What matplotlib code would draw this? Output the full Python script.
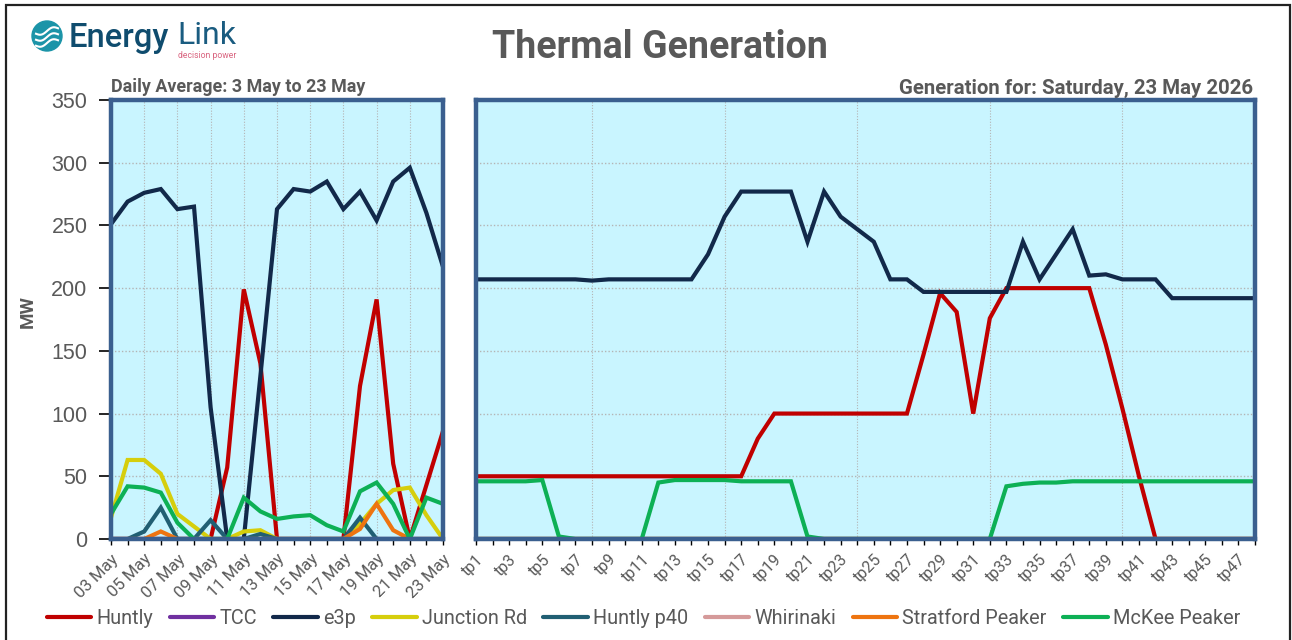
import matplotlib
matplotlib.use("Agg")
import matplotlib.pyplot as plt
from matplotlib.patches import Circle, Rectangle
from matplotlib.lines import Line2D
import numpy as np

names = ["Huntly", "TCC", "e3p", "Junction Rd", "Huntly p40", "Whirinaki", "Stratford Peaker", "McKee Peaker"]
colors = ["#C00000", "#7030A0", "#12294A", "#D6CE0C", "#215F73", "#D59A9A", "#EE7410", "#0DB055"]

days = ["03 May", "04 May", "05 May", "06 May", "07 May", "08 May", "09 May", "10 May", "11 May", "12 May", "13 May",
        "14 May", "15 May", "16 May", "17 May", "18 May", "19 May", "20 May", "21 May", "22 May", "23 May"]
d_huntly = [0, 0, 0, 0, 0, 0, 0, 57, 199, 140, 0, 0, 0, 0, 0, 122, 191, 60, 0, 43, 86]
d_tcc = [0] * 21
d_e3p = [251, 269, 276, 279, 263, 265, 105, 0, 0, 130, 263, 279, 277, 285, 263, 277, 254, 285, 296, 260, 217]
d_junction = [17, 63, 63, 52, 20, 10, 0, 0, 6, 7, 0, 0, 0, 0, 0, 12, 28, 39, 41, 19, 0]
d_p40 = [0, 0, 6, 25, 0, 0, 15, 0, 0, 4, 0, 0, 0, 0, 0, 17, 0, 0, 0, 0, 0]
d_whirinaki = [0] * 21
d_stratford = [0, 0, 0, 6, 0, 0, 0, 0, 0, 0, 0, 0, 0, 0, 0, 8, 28, 7, 0, 0, 0]
d_mckee = [20, 42, 41, 37, 13, 0, 0, 0, 33, 22, 16, 18, 19, 11, 6, 38, 45, 28, 0, 33, 28]

tps = ["tp" + str(i) for i in range(1, 49)]
t_huntly = [50, 50, 50, 50, 50, 50, 50, 50, 50, 50, 50, 50, 50, 50, 50, 50, 50, 80, 100, 100, 100, 100, 100, 100,
            100, 100, 100, 147, 196, 181, 100, 176, 200, 200, 200, 200, 200, 200, 155, 104, 50, 0, 0, 0, 0, 0, 0, 0]
t_tcc = [0] * 48
t_e3p = [207, 207, 207, 207, 207, 207, 207, 206, 207, 207, 207, 207, 207, 207, 227, 257, 277, 277, 277, 277, 237, 277, 257, 247,
         237, 207, 207, 197, 197, 197, 197, 197, 197, 237, 207, 227, 247, 210, 211, 207, 207, 207, 192, 192, 192, 192, 192, 192]
t_junction = [0] * 48
t_p40 = [0] * 48
t_whirinaki = [0] * 48
t_stratford = [0] * 48
t_mckee = [46, 46, 46, 46, 47, 2, 0, 0, 0, 0, 0, 45, 47, 47, 47, 47, 46, 46, 46, 46, 2, 0, 0, 0,
           0, 0, 0, 0, 0, 0, 0, 0, 42, 44, 45, 45, 46, 46, 46, 46, 46, 46, 46, 46, 46, 46, 46, 46]

daily = [d_huntly, d_tcc, d_e3p, d_junction, d_p40, d_whirinaki, d_stratford, d_mckee]
today = [t_huntly, t_tcc, t_e3p, t_junction, t_p40, t_whirinaki, t_stratford, t_mckee]

W, H = 1292, 640
plt.rcParams["font.family"] = ["Roboto", "DejaVu Sans"]
grey = "#595959"
grid_c = "#B4B4B4"
fig = plt.figure(figsize=(W / 100, H / 100), dpi=100)


def box(x0, y0, x1, y1):
    return [x0 / W, 1 - y1 / H, (x1 - x0) / W, (y1 - y0) / H]


fig.add_artist(Rectangle((6 / W, -0.02), 1284 / W, 1.02 - 5 / H, transform=fig.transFigure, fill=False, ec="#222222", lw=1.6))

ax1 = fig.add_axes(box(111, 100, 443, 539))
ax2 = fig.add_axes(box(476, 100, 1255, 539))

for ax, labels, series in [(ax1, days, daily), (ax2, tps, today)]:
    x = np.arange(len(labels))
    for vals, c, n in zip(series, colors, names):
        ax.plot(x, vals, color=c, lw=3, label=n, solid_joinstyle="miter")
    ax.set_xlim(0, len(labels) - 1)
    ax.set_ylim(0, 350)
    ax.set_facecolor("#C9F5FF")
    ax.set_yticks(range(0, 351, 50))
    ax.set_xticks(x)
    ax.grid(axis="y", color=grid_c, ls=(0, (1, 1.5)), lw=1)
    for s in ax.spines.values():
        s.set_color("#3A5F8F")
        s.set_linewidth(3.2)
        s.set_zorder(5)
    ax.tick_params(axis="x", length=4, width=1, color="black", pad=5)

# vertical gridlines only at some categories
for i in range(2, 21, 2):
    ax1.axvline(i, color=grid_c, ls=(0, (1, 1.5)), lw=0.8, zorder=0.9)
for i in range(7, 48, 8):
    ax2.axvline(i, color=grid_c, ls=(0, (1, 1.5)), lw=0.8, zorder=0.9)

ax1.set_xticklabels([d if i % 2 == 0 else "" for i, d in enumerate(days)], rotation=45, ha="right",
                    rotation_mode="anchor", fontsize=12, color=grey)
ax2.set_xticklabels([t if i % 2 == 0 else "" for i, t in enumerate(tps)], rotation=45, ha="right",
                    rotation_mode="anchor", fontsize=11.5, color=grey)
ax1.tick_params(axis="y", length=9, width=1.2, color="black", labelsize=15.5, labelcolor=grey, pad=8)
for t in ax1.get_yticklabels():
    t.set_family("Liberation Sans")
ax2.tick_params(axis="y", length=0, labelleft=False)

ax1.set_ylabel("MW", fontsize=13.5, fontweight="bold", color=grey)
ax1.yaxis.set_label_coords((37 - 111) / 332, 0.517)

fig.text(660 / W, 1 - 48 / H, "Thermal Generation", ha="center", va="center", fontsize=27, fontweight="bold", color=grey)
fig.text(111 / W, 1 - 87 / H, "Daily Average: 3 May to 23 May", ha="left", va="center", fontsize=12.9, fontweight="bold", color=grey)
fig.text(1253 / W, 1 - 88 / H, "Generation for: Saturday, 23 May 2026", ha="right", va="center", fontsize=14.7, fontweight="bold", color=grey)

# logo
logo = fig.add_axes([0, 0, 1, 1], zorder=10)
logo.set_xlim(0, W)
logo.set_ylim(H, 0)
logo.axis("off")
logo.add_patch(Circle((47, 36), 15, color="#1B94A8"))
wx = np.linspace(36, 58, 30)
for off in [-5, 1, 7]:
    logo.plot(wx, 36 + off - (wx - 47) * 0.25 + 2.2 * np.sin((wx - 36) / 3.5), color="white", lw=1.5)
logo.text(69, 38, "Energy", fontsize=23.6, fontweight="medium", color="#0F4C6E", va="center")
logo.text(177, 36, "Link", fontsize=23, color="#1A5C80", va="center")
logo.text(178, 55.5, "decision power", fontsize=6.2, color="#D9637F", va="center")

# legend
handles = [Line2D([], [], color=c, lw=3, solid_capstyle="round") for c in colors]
fig.legend(handles, names, loc="center", bbox_to_anchor=(643.5 / W, 1 - 618 / H), ncol=8, frameon=False,
           fontsize=14.3, labelcolor=grey, handlelength=2.25, handletextpad=0.25, columnspacing=0.83)

fig.savefig("out.png", dpi=100)
